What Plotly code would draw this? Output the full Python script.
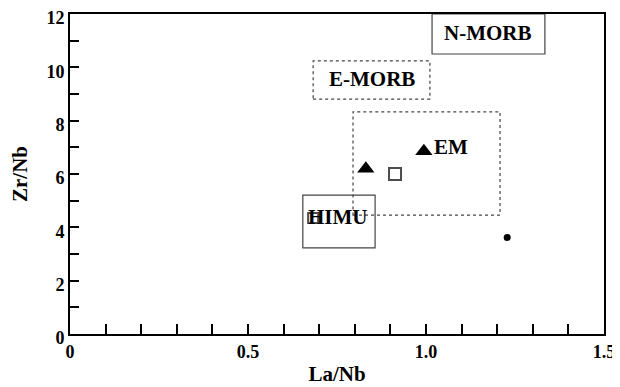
import plotly.graph_objects as go

# Data
tri_x = [0.831, 0.994]
tri_y = [6.2, 6.85]
sq_x = [0.913, 0.683]
sq_y = [6.0, 4.35]
sq_size = [12, 10]
dot_x = [1.228]
dot_y = [3.62]

# Reservoir fields (x0, x1, y0, y1)
box_names = ["N-MORB", "E-MORB", "EM", "HIMU"]
box_x0 = [1.017, 0.683, 0.795, 0.654]
box_x1 = [1.334, 1.011, 1.208, 0.857]
box_y0 = [10.5, 8.81, 4.46, 3.23]
box_y1 = [12.0, 10.24, 8.33, 5.21]
box_dash = ["solid", "dot", "dot", "solid"]

# Labels
lab_text = ["N-MORB", "E-MORB", "EM", "HIMU"]
lab_x = [1.175, 0.847, 1.07, 0.754]
lab_y = [11.28, 9.55, 7.02, 4.4]

x_major = [0, 0.5, 1.0, 1.5]
x_major_text = ["0", "0.5", "1.0", "1.5"]
y_major = [0, 2, 4, 6, 8, 10, 12]

FONT = "Liberation Serif"

fig = go.Figure()
fig.add_trace(go.Scatter(x=tri_x, y=tri_y, mode="markers",
                         marker=dict(symbol="triangle-up", size=15, color="black"),
                         showlegend=False))
fig.add_trace(go.Scatter(x=sq_x, y=sq_y, mode="markers",
                         marker=dict(symbol="square-open", size=sq_size, color="black",
                                     line=dict(width=2, color="black")),
                         showlegend=False))
fig.add_trace(go.Scatter(x=dot_x, y=dot_y, mode="markers",
                         marker=dict(symbol="circle", size=7, color="black"),
                         showlegend=False))

for i in range(len(box_names)):
    fig.add_shape(type="rect", xref="x", yref="y",
                  x0=box_x0[i], x1=box_x1[i], y0=box_y0[i], y1=box_y1[i],
                  line=dict(color="#444444", width=1.2, dash=box_dash[i]),
                  fillcolor="rgba(0,0,0,0)", layer="below")

for t, x, y in zip(lab_text, lab_x, lab_y):
    fig.add_annotation(x=x, y=y, xref="x", yref="y", text=t, showarrow=False,
                       font=dict(family=FONT, size=21, color="black", weight="bold"))

# page body has an 8px default margin, so the figure is sized/offset to compensate
fig.update_layout(
    width=612, height=379,
    margin=dict(l=62, r=16, t=6, b=53, autoexpand=False),
    plot_bgcolor="white", paper_bgcolor="white",
    font=dict(family=FONT, color="black", weight="bold"),
    xaxis=dict(range=[0, 1.5], tickvals=x_major, ticktext=x_major_text, automargin=False,
               ticks="inside", ticklen=10, tickwidth=2, tickcolor="black",
               minor=dict(dtick=0.1, ticks="inside", ticklen=10, tickwidth=2, tickcolor="black"),
               showline=True, linewidth=2, linecolor="black", mirror=True,
               showgrid=False, zeroline=False, ticklabeloverflow="allow",
               tickfont=dict(family=FONT, size=18, weight="bold"),
               title=dict(text="La/Nb", font=dict(family=FONT, size=21, weight="bold"), standoff=6)),
    yaxis=dict(range=[0, 12], tickvals=y_major, automargin=False,
               ticks="inside", ticklen=9, tickwidth=2, tickcolor="black",
               minor=dict(dtick=1, ticks="inside", ticklen=9, tickwidth=2, tickcolor="black"),
               showline=True, linewidth=2, linecolor="black", mirror=True,
               showgrid=False, zeroline=False, ticklabeloverflow="allow",
               ticklabelshift=4,
               tickfont=dict(family=FONT, size=18, weight="bold"),
               title=dict(text="Zr/Nb", font=dict(family=FONT, size=21, weight="bold"), standoff=14)),
)

fig.write_html("out.html")
